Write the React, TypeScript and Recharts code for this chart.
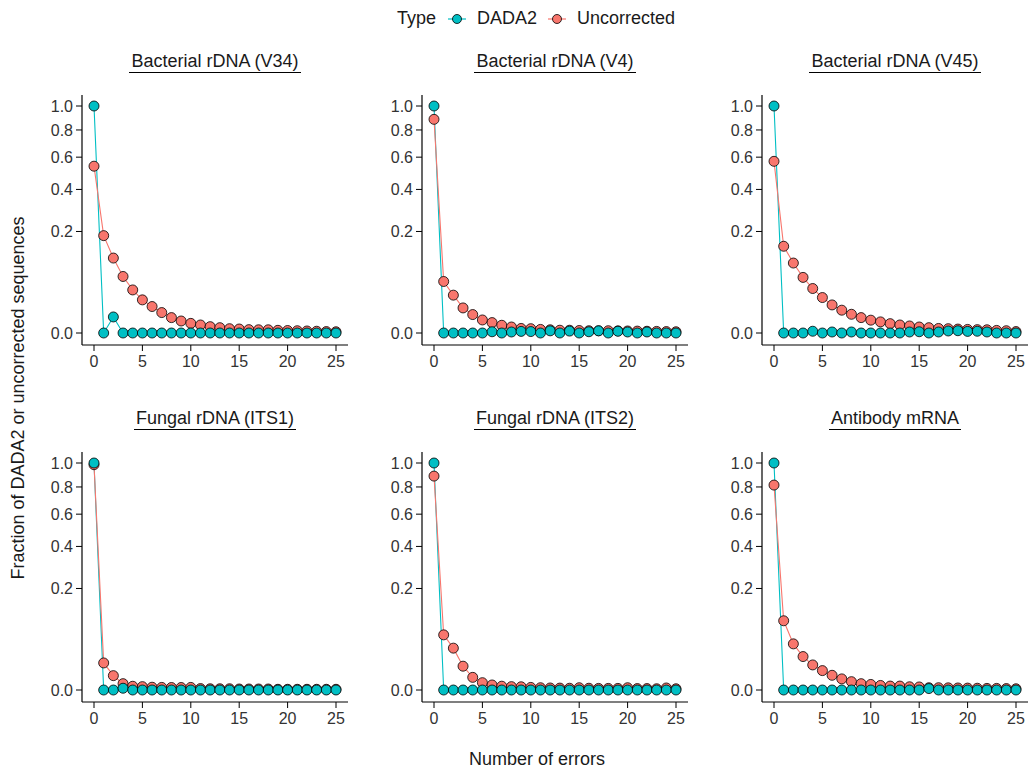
import React from "react";
import { LineChart, Line, XAxis, YAxis } from "recharts";

// number of errors on the x axis
const errors = [0, 1, 2, 3, 4, 5, 6, 7, 8, 9, 10, 11, 12, 13, 14, 15, 16, 17, 18, 19, 20, 21, 22, 23, 24, 25];
const xTicks = [0, 5, 10, 15, 20, 25];
const yTicks = [0, 0.2, 0.4, 0.6, 0.8, 1.0];

// Bacterial rDNA (V34)
const dada2V34 = [1.0, 0, 0.005, 0, 0, 0, 0, 0, 0, 0, 0, 0, 0, 0, 0, 0, 0, 0, 0, 0, 0, 0, 0, 0, 0, 0];
const uncorrectedV34 = [0.54, 0.184, 0.109, 0.062, 0.036, 0.0213, 0.0136, 0.0081, 0.0046, 0.0028, 0.0018, 0.00125, 0.00078, 0.00055, 0.00036, 0.00031, 0.00022, 0.0002, 0.0002, 0.00014, 0.00012, 0.0001, 0.00008, 0.00006, 0.00004, 0.00003];

// Bacterial rDNA (V4)
const dada2V4 = [1.0, 0, 0, 0, 0, 0, 0.00003, 0, 0.00002, 0.00005, 0.00004, 0, 0.00009, 0, 0.00007, 0, 0.00003, 0.00009, 0, 0.00006, 0.00002, 0, 0.00002, 0, 0, 0];
const uncorrectedV4 = [0.886, 0.0515, 0.0278, 0.0122, 0.0066, 0.0033, 0.0021, 0.00116, 0.0007, 0.0004, 0.00036, 0.00025, 0.0002, 0.00015, 0.00015, 0.00012, 0.0001, 0.0001, 0.0001, 0.00009, 0.00008, 0.00007, 0.00006, 0.00005, 0.00004, 0.00003];

// Bacterial rDNA (V45)
const dada2V45 = [1.0, 0, 0, 0, 0.00006, 0, 0.00002, 0, 0.00002, 0, 0, 0, 0, 0, 0.00002, 0.00003, 0, 0.00002, 0.00008, 0.0001, 0.00005, 0.00006, 0.00002, 0, 0, 0];
const uncorrectedV45 = [0.572, 0.146, 0.095, 0.06, 0.0384, 0.0244, 0.0153, 0.0101, 0.0068, 0.0046, 0.0032, 0.0024, 0.0017, 0.00125, 0.00096, 0.0007, 0.00055, 0.0004, 0.00036, 0.0003, 0.00025, 0.00022, 0.0002, 0.00013, 0.0001, 0.00004];

// Fungal rDNA (ITS1)
const dada2ITS1 = [1.0, 0, 0, 0.00006, 0, 0, 0, 0, 0, 0, 0, 0, 0, 0, 0, 0, 0, 0, 0, 0, 0, 0, 0, 0, 0, 0];
const uncorrectedITS1 = [0.985, 0.0142, 0.004, 0.00078, 0.00027, 0.00022, 0.00015, 0.00013, 0.00012, 0.00012, 0.00013, 0.00004, 0.00003, 0.00003, 0.00003, 0.00002, 0.00002, 0.00002, 0.00002, 0.00001, 0.00001, 0.00001, 0.00001, 0.00001, 0.00001, 0.00001];

// Fungal rDNA (ITS2)
const dada2ITS2 = [1.0, 0, 0, 0, 0, 0, 0, 0, 0, 0, 0, 0, 0, 0, 0, 0, 0, 0, 0, 0, 0, 0, 0, 0, 0, 0];
const uncorrectedITS2 = [0.888, 0.059, 0.034, 0.011, 0.0031, 0.00104, 0.00049, 0.00028, 0.00022, 0.0002, 0.00013, 0.0001, 0.00008, 0.00007, 0.00006, 0.0001, 0.00006, 0.00005, 0.00005, 0.00005, 0.0001, 0.00004, 0.00004, 0.00003, 0.00008, 0.00003];

// Antibody mRNA
const dada2Antibody = [1.0, 0, 0, 0, 0, 0, 0, 0, 0, 0, 0, 0, 0, 0, 0, 0, 0.00004, 0, 0, 0, 0, 0, 0, 0, 0, 0];
const uncorrectedAntibody = [0.815, 0.093, 0.0413, 0.0217, 0.0122, 0.0073, 0.0042, 0.0024, 0.00135, 0.00078, 0.0006, 0.0004, 0.0003, 0.0003, 0.0002, 0.00018, 0.0001, 0.0001, 0.00009, 0.00008, 0.00007, 0.00006, 0.00005, 0.00005, 0.00004, 0.00003];

const panelTitles = [
  "Bacterial rDNA (V34)",
  "Bacterial rDNA (V4)",
  "Bacterial rDNA (V45)",
  "Fungal rDNA (ITS1)",
  "Fungal rDNA (ITS2)",
  "Antibody mRNA",
];
const dada2Series = [dada2V34, dada2V4, dada2V45, dada2ITS1, dada2ITS2, dada2Antibody];
const uncorrectedSeries = [uncorrectedV34, uncorrectedV4, uncorrectedV45, uncorrectedITS1, uncorrectedITS2, uncorrectedAntibody];

const DADA2_COLOR = "#00BFC4";
const UNCORRECTED_COLOR = "#F8766D";
const FONT = '"Liberation Sans", Arial, Helvetica, sans-serif';
const TEXT = "#1a1a1a";

// layout (px)
const colLeft = [82, 422, 762];
const rowTop = [95, 452];
const PLOT_W = 266;
const PLOT_H = 250;
const Y_AXIS_W = 50;
const X_AXIS_H = 34;
const TOP_M = 5;
const RIGHT_M = 8;

function buildRows(dada2: number[], uncorrected: number[]) {
  return errors.map((e, i) => ({ errors: e, dada2: dada2[i], uncorrected: uncorrected[i] }));
}

const dotStyle = (color: string) => ({ r: 5, fill: color, stroke: "#000", strokeWidth: 0.8 });

function Panel({ index }: { index: number }) {
  const col = index % 3;
  const row = Math.floor(index / 3);
  const rows = buildRows(dada2Series[index], uncorrectedSeries[index]);
  const left = colLeft[col];
  const top = rowTop[row];
  const tickStyle = { fill: "#333", fontSize: 16, fontFamily: FONT };

  return (
    <>
      <div
        style={{
          position: "absolute",
          left,
          top: top - 44,
          width: PLOT_W,
          textAlign: "center",
          fontFamily: FONT,
          fontSize: 18,
          lineHeight: "20px",
          color: TEXT,
        }}
      >
        <span style={{ borderBottom: "1.5px solid #000", padding: "0 2px 1px" }}>{panelTitles[index]}</span>
      </div>
      <div style={{ position: "absolute", left: left - Y_AXIS_W, top: top - TOP_M }}>
        <LineChart
          width={Y_AXIS_W + PLOT_W + RIGHT_M}
          height={TOP_M + PLOT_H + X_AXIS_H}
          data={rows}
          margin={{ top: TOP_M, right: RIGHT_M, bottom: 0, left: 0 }}
        >
          <XAxis
            dataKey="errors"
            type="number"
            domain={[0, 25]}
            ticks={xTicks}
            interval={0}
            padding={{ left: 12, right: 12 }}
            height={X_AXIS_H}
            tickSize={6}
            tickMargin={5}
            axisLine={{ stroke: "#000", strokeWidth: 1.2 }}
            tickLine={{ stroke: "#000" }}
            tick={tickStyle}
          />
          <YAxis
            type="number"
            scale="sqrt"
            domain={[0, 1]}
            ticks={yTicks}
            interval={0}
            padding={{ top: 11, bottom: 12 }}
            width={Y_AXIS_W}
            tickSize={6}
            tickMargin={3}
            tickFormatter={(v: number) => v.toFixed(1)}
            axisLine={{ stroke: "#000", strokeWidth: 1.2 }}
            tickLine={{ stroke: "#000" }}
            tick={tickStyle}
          />
          <Line dataKey="dada2" stroke={DADA2_COLOR} strokeWidth={1.1} dot={false} activeDot={false} isAnimationActive={false} />
          <Line dataKey="uncorrected" stroke={UNCORRECTED_COLOR} strokeWidth={1.1} dot={false} activeDot={false} isAnimationActive={false} />
          <Line dataKey="uncorrected" stroke="none" dot={dotStyle(UNCORRECTED_COLOR)} activeDot={false} isAnimationActive={false} />
          <Line dataKey="dada2" stroke="none" dot={dotStyle(DADA2_COLOR)} activeDot={false} isAnimationActive={false} />
        </LineChart>
      </div>
    </>
  );
}

function LegendKey({ color, x }: { color: string; x: number }) {
  return (
    <svg width={20} height={14} style={{ position: "absolute", left: x - 10, top: 12 }}>
      <line x1={1} y1={7} x2={19} y2={7} stroke={color} strokeWidth={1.2} />
      <circle cx={10} cy={7} r={4.5} fill={color} stroke="#000" strokeWidth={0.8} />
    </svg>
  );
}

const legendText = { position: "absolute" as const, top: 8, fontSize: 18, lineHeight: "20px", color: TEXT, whiteSpace: "nowrap" as const };

export default function App() {
  return (
    <div
      style={{
        position: "absolute",
        left: 0,
        top: 0,
        width: 1029,
        height: 774,
        background: "#fff",
        fontFamily: FONT,
        overflow: "hidden",
      }}
    >
      <span style={{ ...legendText, left: 397 }}>Type</span>
      <LegendKey color={DADA2_COLOR} x={457} />
      <span style={{ ...legendText, left: 477 }}>DADA2</span>
      <LegendKey color={UNCORRECTED_COLOR} x={557} />
      <span style={{ ...legendText, left: 577 }}>Uncorrected</span>

      {panelTitles.map((_, i) => (
        <Panel key={i} index={i} />
      ))}

      <div
        style={{
          position: "absolute",
          left: 18,
          top: 398,
          transform: "translate(-50%, -50%) rotate(-90deg)",
          whiteSpace: "nowrap",
          fontSize: 18,
          lineHeight: "20px",
          color: TEXT,
        }}
      >
        Fraction of DADA2 or uncorrected sequences
      </div>
      <div
        style={{
          position: "absolute",
          left: 537,
          top: 759,
          transform: "translate(-50%, -50%)",
          whiteSpace: "nowrap",
          fontSize: 18,
          lineHeight: "20px",
          color: TEXT,
        }}
      >
        Number of errors
      </div>
    </div>
  );
}
